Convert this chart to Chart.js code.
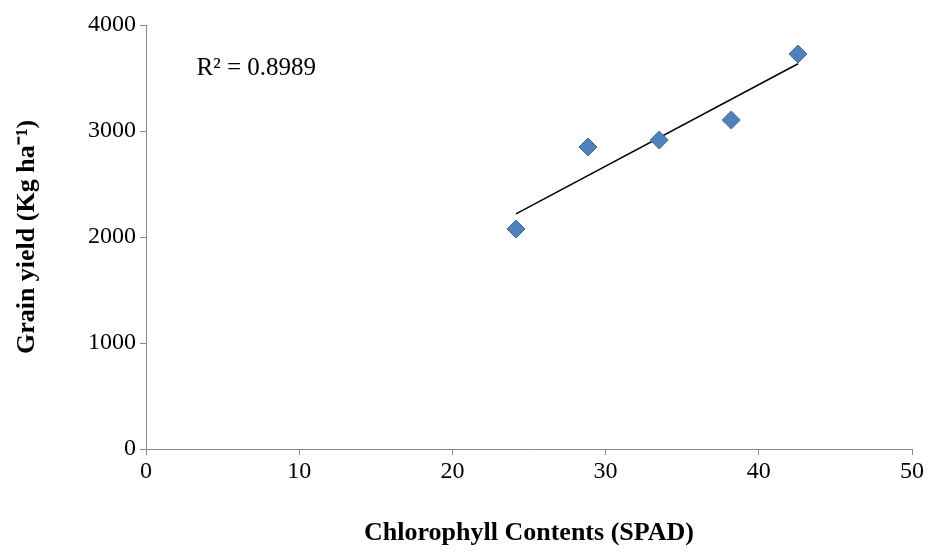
<!DOCTYPE html>
<html>
<head>
<meta charset="utf-8">
<script src="https://cdn.jsdelivr.net/npm/chart.js@4"></script>
<style>
  html, body { margin: 0; padding: 0; background: #fff; }
  #wrap { width: 932px; height: 553px; }
</style>
</head>
<body>
<div id="wrap"><canvas id="c"></canvas></div>
<script>
// values
var spad = [24.15, 28.85, 33.5, 38.2, 42.56];
var grainYield = [2075, 2849, 2915, 3104, 3726];
var r2Label = 'R² = 0.8989';

// least squares trendline from the points
function fitLine(xs, ys) {
    var n = xs.length, mx = 0, my = 0;
    for (var i = 0; i < n; i++) { mx += xs[i]; my += ys[i]; }
    mx /= n; my /= n;
    var sxy = 0, sxx = 0;
    for (var i = 0; i < n; i++) {
        sxy += (xs[i] - mx) * (ys[i] - my);
        sxx += (xs[i] - mx) * (xs[i] - mx);
    }
    var b = sxy / sxx;
    return { a: my - b * mx, b: b };
}
var fit = fitLine(spad, grainYield);
var xMin = Math.min.apply(null, spad), xMax = Math.max.apply(null, spad);
var trend = [
    { x: xMin, y: fit.a + fit.b * xMin },
    { x: xMax, y: fit.a + fit.b * xMax }
];

var points = spad.map(function (x, i) { return { x: x, y: grainYield[i] }; });

var r2Plugin = {
    id: 'r2',
    afterDraw: function (chart) {
        var ctx = chart.ctx;
        var xs = chart.scales.x, ys = chart.scales.y;
        ctx.save();
        ctx.font = '25px "Liberation Serif", serif';
        ctx.fillStyle = '#000';
        ctx.textAlign = 'left';
        ctx.textBaseline = 'middle';
        ctx.fillText(r2Label, xs.getPixelForValue(3.3), ys.getPixelForValue(3594));
        ctx.restore();
    }
};

var tickFont = { family: 'Liberation Serif', size: 24 };

new Chart(document.getElementById('c'), {
    type: 'scatter',
    data: {
        datasets: [
            {
                data: trend,
                showLine: true,
                borderColor: '#000',
                borderWidth: 1.5,
                pointRadius: 0,
                order: 2
            },
            {
                data: points,
                pointStyle: 'rectRot',
                pointRadius: 9,
                pointHoverRadius: 9,
                backgroundColor: '#4F81BD',
                borderColor: '#3C6DA8',
                borderWidth: 1,
                order: 1
            }
        ]
    },
    options: {
        responsive: true,
        maintainAspectRatio: false,
        animation: false,
        layout: { padding: { top: 25, right: 20, left: 8, bottom: 0 } },
        plugins: { legend: { display: false }, tooltip: { enabled: false } },
        scales: {
            x: {
                type: 'linear',
                min: 0, max: 50,
                ticks: { stepSize: 10, color: '#000', font: tickFont, padding: 2,
                         callback: function (v) { return String(v); } },
                grid: { display: true, drawOnChartArea: false, drawTicks: true, tickLength: 6, tickColor: '#888' },
                border: { color: '#888' },
                title: {
                    display: true,
                    text: 'Chlorophyll Contents (SPAD)',
                    color: '#000',
                    font: { family: 'Liberation Serif', size: 26, weight: 'bold' },
                    padding: { top: 16 }
                },
                afterFit: function (s) { s.height = 104; }
            },
            y: {
                min: 0, max: 4000,
                ticks: { stepSize: 1000, color: '#000', font: tickFont, padding: 4,
                         callback: function (v) { return String(v); } },
                grid: { display: true, drawOnChartArea: false, drawTicks: true, tickLength: 6, tickColor: '#888' },
                border: { color: '#888' },
                title: {
                    display: true,
                    text: 'Grain yield (Kg ha⁻¹)',
                    color: '#000',
                    font: { family: 'Liberation Serif', size: 26, weight: 'bold' },
                    padding: { bottom: 4 }
                },
                afterFit: function (s) { s.width = 138; }
            }
        }
    },
    plugins: [r2Plugin]
});
</script>
</body>
</html>
